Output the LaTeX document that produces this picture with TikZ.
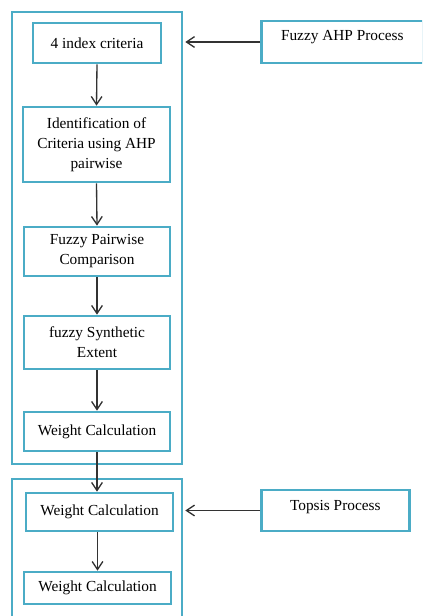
\documentclass[tikz,border=0pt]{standalone}
\usepackage{fontspec}
\setmainfont{Liberation Serif}
\usetikzlibrary{arrows.meta,calc}
\definecolor{boxblue}{HTML}{4BACC6}
\begin{document}
\begin{tikzpicture}[x=0.75pt,y=-0.75pt,
  stepbox/.style={draw=boxblue,line width=2pt,fill=white,align=center,
    font=\fontsize{11.5}{15}\selectfont,inner sep=0pt},
  outerbox/.style={draw=boxblue,line width=2pt,inner sep=0pt},
  conn/.style={draw=black!80,line width=1pt,-{Straight Barb[length=6pt,width=8pt,line width=1pt]}}]
\useasboundingbox (0,0) rectangle (422,616);
\begin{scope}
\clip (0,0) rectangle (422,616);
% outer groups
\node[outerbox,minimum width=170*0.75pt,minimum height=452*0.75pt] (g1) at (97,238) {};
\node[outerbox,minimum width=170*0.75pt,minimum height=150*0.75pt] (g2) at (97,554) {};
% steps
\node[stepbox,minimum width=128*0.75pt,minimum height=40*0.75pt] (b1) at (97,43) {4 index criteria};
\node[stepbox,minimum width=147*0.75pt,minimum height=75*0.75pt] (b2) at (96.5,144.5) {Identification of\\Criteria using AHP\\pairwise};
\node[stepbox,minimum width=146*0.75pt,minimum height=49*0.75pt] (b3) at (97,251.5) {Fuzzy Pairwise\\Comparison};
\node[stepbox,minimum width=146*0.75pt,minimum height=53*0.75pt] (b4) at (97,342.5) {fuzzy Synthetic\\Extent};
\node[stepbox,minimum width=146*0.75pt,minimum height=39*0.75pt] (b5) at (97,431.5) {Weight Calculation};
\node[stepbox,minimum width=147*0.75pt,minimum height=38*0.75pt] (b6) at (99.5,512) {Weight Calculation};
\node[stepbox,minimum width=147*0.75pt,minimum height=32*0.75pt] (b7) at (97.5,588) {Weight Calculation};
% side processes
\node[stepbox,minimum width=162*0.75pt,minimum height=42*0.75pt,anchor=west] (fz) at (260,42) {Fuzzy AHP Process\rule[-10pt]{0pt}{0pt}};
\node[stepbox,minimum width=148*0.75pt,minimum height=41*0.75pt,anchor=west] (tp) at (260,510.5) {Topsis Process\rule[-8pt]{0pt}{0pt}};
% connectors
\draw[conn] (b1.south) -- (b2.north);
\draw[conn] (b2.south) -- (b3.north);
\draw[conn] (b3.south) -- (b4.north);
\draw[conn] (b4.south) -- (b5.north);
\draw[conn] (b5.south) -- ($(b6.north)+(-2.5,0)$);
\draw[conn] (b6.south -| b7.north) -- (b7.north);
\draw[conn] (fz.west) -- ($(fz.west -| g1.east)+(2,0)$);
\draw[conn] (tp.west) -- ($(tp.west -| g2.east)+(2,0)$);
\end{scope}
\end{tikzpicture}
\end{document}
